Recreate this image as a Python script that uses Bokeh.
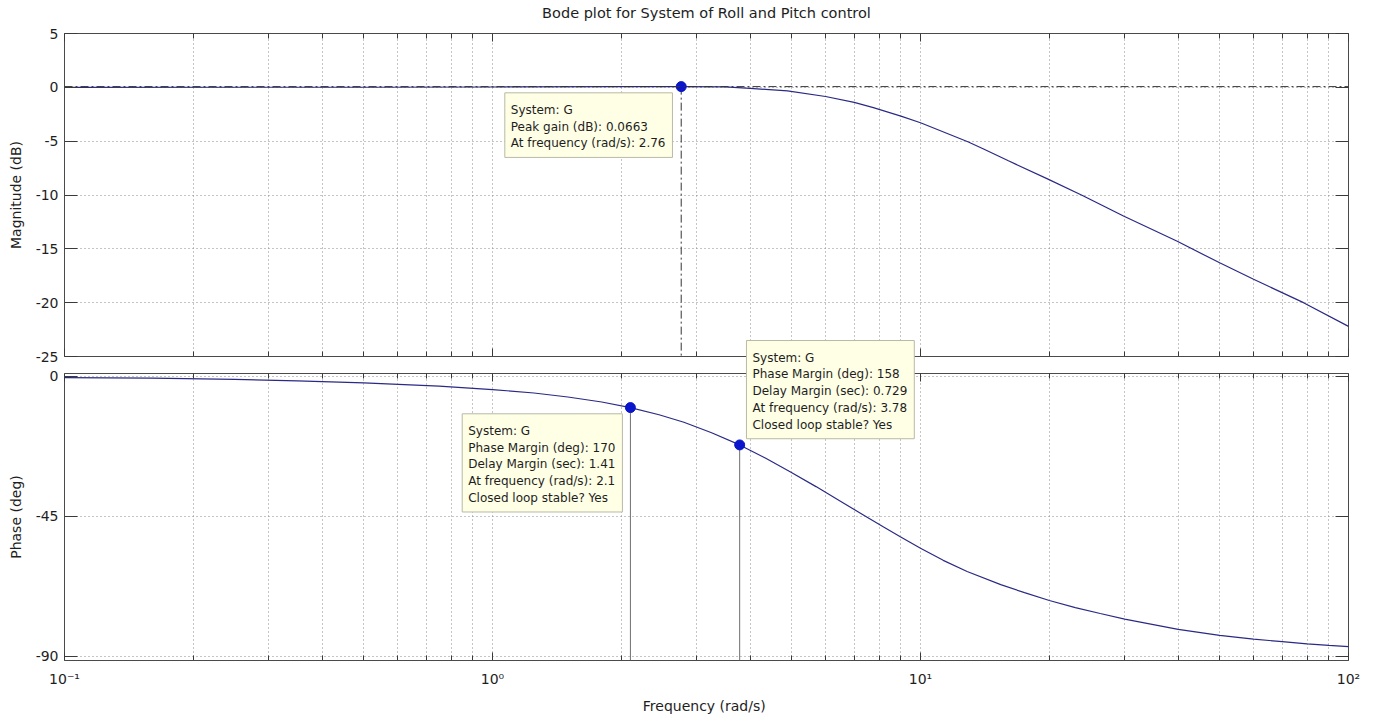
from bokeh.plotting import figure
from bokeh.models import Range1d, LogAxis, LinearAxis, FixedTicker, Span, Label
from bokeh.layouts import column
from bokeh.embed import file_html
from bokeh.resources import INLINE

# ---------------- data ----------------
title_text = "Bode plot for System of Roll and Pitch control"
mag_label = "Magnitude (dB)"
phase_label = "Phase (deg)"
freq_label = "Frequency  (rad/s)"

mag_freq = [0.1, 0.5, 1.0, 2.0, 2.76, 3.5, 4.0, 4.89, 6.0, 7.0, 7.76, 9.0, 10.0,
            12.9, 14.0, 16.0, 19.8, 23.9, 29.8, 39.8, 50.0, 60.0, 78.5, 100.0]
mag_db = [0.0, 0.01, 0.03, 0.06, 0.0663, 0.04, -0.1, -0.33, -0.85, -1.4, -1.88, -2.67, -3.29,
          -5.05, -5.7, -6.8, -8.5, -10.05, -11.95, -14.3, -16.3, -17.83, -20.0, -22.2]

phase_freq = [0.1, 0.16, 0.25, 0.35, 0.5, 0.75, 1.0, 1.25, 1.5, 1.8, 2.1, 2.45, 2.8, 3.25,
              3.78, 4.35, 4.97, 5.7, 6.5, 7.37, 8.2, 8.97, 10.0, 11.3, 12.85, 15.4, 17.5,
              20.0, 23.0, 26.3, 30.0, 40.0, 50.0, 60.0, 70.0, 80.0, 90.0, 100.0]
phase_deg = [-0.34, -0.54, -0.95, -1.4, -2.05, -3.1, -4.2, -5.3, -6.6, -8.2, -10.0, -12.3,
             -14.7, -18.1, -22.0, -26.3, -30.7, -35.4, -40.1, -44.6, -48.4, -51.5, -55.2,
             -59.1, -62.7, -66.9, -69.5, -72.0, -74.3, -76.2, -78.0, -81.3, -83.2, -84.4,
             -85.25, -85.95, -86.45, -86.85]

freq_ticks = [0.1, 1.0, 10.0, 100.0]
freq_tick_labels = ["10\u207b\u00b9", "10\u2070", "10\u00b9", "10\u00b2"]
freq_minor = [0.2, 0.3, 0.4, 0.5, 0.6, 0.7, 0.8, 0.9,
              2, 3, 4, 5, 6, 7, 8, 9,
              20, 30, 40, 50, 60, 70, 80, 90]
mag_ticks = [-25, -20, -15, -10, -5, 0, 5]
phase_ticks = [-90, -45, 0]
mag_limits = (-25, 5)
phase_limits = (-91.3, 0.96)

system_name = "G"
peak_freq = 2.76
peak_gain = 0.0663
pm_freq = [2.1, 3.78]
pm_phase = [-10.0, -22.0]
pm_margin = [170, 158]
pm_delay = [1.41, 0.729]
pm_stable = ["Yes", "Yes"]

# ---------------- styles / geometry ----------------
FONT = "DejaVu Sans"
CURVE = "#2a2a86"
MARK = "#0b16cc"
GRID = "#8a8a8a"
TICK = "#3a3a3a"
FRAME = "#4a4a4a"
TIP_BG = "#ffffe6"
TIP_EDGE = "#b9b9a6"
TEXT = "#1e1e1e"

W = 1365
LEFT, RIGHT = 64, 17
TOP_Y0, TOP_Y1 = 33, 356      # magnitude frame (page px)
BOT_Y0, BOT_Y1 = 373, 660     # phase frame (page px)
TITLE_Y = 12                  # title centre line (page px)
PAGE_H = 716
TOP_H = 363                   # top canvas height
BOT_START = 330               # bottom canvas starts here (overlaps top canvas)


def x_ticker():
    return FixedTicker(ticks=freq_ticks, minor_ticks=freq_minor)


def style_axis(ax, ticker, major_in, minor_in, show_labels):
    ax.ticker = ticker
    ax.axis_line_color = None
    ax.major_tick_out = 0
    ax.minor_tick_out = 0
    ax.major_tick_in = major_in
    ax.minor_tick_in = minor_in
    ax.major_tick_line_color = TICK
    ax.minor_tick_line_color = TICK
    ax.major_label_text_font = FONT
    ax.major_label_text_color = TEXT
    if show_labels:
        ax.major_label_text_font_size = "14px"
    else:
        ax.major_label_text_font_size = "1px"
        ax.major_label_text_alpha = 0
        ax.major_label_standoff = 0
    ax.axis_label_text_font = FONT
    ax.axis_label_text_font_size = "14px"
    ax.axis_label_text_font_style = "normal"
    ax.axis_label_text_color = TEXT


def dress(fig, y_ticks, y_label, x_labels_on):
    xb = fig.xaxis[0]
    style_axis(xb, x_ticker(), 8, 5, x_labels_on)
    yl = fig.yaxis[0]
    style_axis(yl, FixedTicker(ticks=y_ticks), 13, 0, True)
    yl.major_label_overrides = {t: str(t) for t in y_ticks}
    yl.axis_label = y_label
    yl.major_label_standoff = 6
    yl.axis_label_standoff = 9
    xt = LogAxis()
    style_axis(xt, x_ticker(), 8, 5, False)
    fig.add_layout(xt, "above")
    yr = LinearAxis()
    style_axis(yr, FixedTicker(ticks=y_ticks), 13, 0, False)
    fig.add_layout(yr, "right")
    fig.xgrid.ticker = x_ticker()
    fig.ygrid.ticker = FixedTicker(ticks=y_ticks)
    for g in (fig.xgrid, fig.ygrid):
        g.grid_line_color = GRID
        g.grid_line_dash = "1 3"
        g.grid_line_width = 1
    fig.xgrid.minor_grid_line_color = GRID
    fig.xgrid.minor_grid_line_dash = "1 3"
    fig.outline_line_color = FRAME
    fig.outline_line_width = 1
    return xb


def tip(x, y, dx, dy, text, range_name="default"):
    return Label(x=x, y=y, x_offset=dx, y_offset=dy, text=text, anchor="top_left",
                 y_range_name=range_name,
                 text_align="left", text_baseline="top",
                 text_font=FONT, text_font_size="12px", text_color=TEXT,
                 text_line_height=1.2,
                 background_fill_color=TIP_BG, border_line_color=TIP_EDGE,
                 border_line_width=1,
                 padding=dict(left=6, right=7, top=10, bottom=7))


# ---------------- magnitude panel ----------------
top = figure(width=W, height=TOP_H, x_axis_type="log",
             x_range=Range1d(freq_ticks[0], freq_ticks[-1]),
             y_range=Range1d(*mag_limits),
             output_backend="svg", toolbar_location=None,
             min_border_left=LEFT, min_border_right=RIGHT,
             min_border_top=TOP_Y0, min_border_bottom=TOP_H - TOP_Y1)
dress(top, mag_ticks, mag_label, False)

top.add_layout(Span(location=peak_gain, dimension="width", line_color="#333333",
                    line_dash="8 3 2 3", line_width=1))
top.segment(x0=[peak_freq], y0=[peak_gain], x1=[peak_freq], y1=[mag_limits[0]],
            line_color="#333333", line_dash="8 3 2 3", line_width=1)
top.line(mag_freq, mag_db, line_color=CURVE, line_width=1.2)
top.scatter([peak_freq], [peak_gain], size=10, fill_color=MARK, line_color=MARK)

# ---------------- phase panel ----------------
bot_h = PAGE_H - BOT_START
bot = figure(width=W, height=bot_h, x_axis_type="log", x_range=top.x_range,
             y_range=Range1d(*phase_limits),
             output_backend="svg", toolbar_location=None,
             min_border_left=LEFT, min_border_right=RIGHT,
             min_border_top=BOT_Y0 - BOT_START, min_border_bottom=PAGE_H - BOT_Y1,
             border_fill_color=None, margin=(BOT_START - TOP_H, 0, 0, 0))
xb = dress(bot, phase_ticks, phase_label, True)
xb.major_label_overrides = {float(t): s for t, s in zip(freq_ticks, freq_tick_labels)}
xb.major_label_standoff = 10
xb.axis_label = freq_label
xb.axis_label_standoff = 8

bot.segment(x0=pm_freq, y0=pm_phase, x1=pm_freq, y1=[phase_limits[0]] * len(pm_freq),
            line_color="#707070", line_width=1)
bot.line(phase_freq, phase_deg, line_color=CURVE, line_width=1.2)
bot.scatter(pm_freq, pm_phase, size=10, fill_color=MARK, line_color=MARK)

# ---------------- transparent overlay: title and data tips ----------------
# its frame spans from the page top to the phase panel bottom; its two y ranges
# reproduce the panels' scales so the tips anchor on the data points
mag_per_px = (mag_limits[1] - mag_limits[0]) / (TOP_Y1 - TOP_Y0)
ph_per_px = (phase_limits[1] - phase_limits[0]) / (BOT_Y1 - BOT_Y0)
ov_mag = Range1d(mag_limits[1] - mag_per_px * (BOT_Y1 - TOP_Y0),
                 mag_limits[1] + mag_per_px * TOP_Y0)
ov_ph = Range1d(phase_limits[0], phase_limits[0] + ph_per_px * BOT_Y1)
ov = figure(width=W, height=PAGE_H, x_axis_type="log", x_range=top.x_range,
            y_range=ov_mag, x_axis_location=None, y_axis_location=None,
            output_backend="svg", toolbar_location=None,
            min_border_left=LEFT, min_border_right=RIGHT,
            min_border_top=0, min_border_bottom=PAGE_H - BOT_Y1,
            background_fill_color=None, border_fill_color=None,
            outline_line_color=None, margin=(-PAGE_H, 0, 0, 0))
ov.extra_y_ranges = {"phase": ov_ph}
ov.grid.visible = False

x_mid = (freq_ticks[0] * freq_ticks[-1]) ** 0.5
ov.add_layout(Label(x=x_mid, y=mag_limits[1] + mag_per_px * (TOP_Y0 - TITLE_Y),
                    text=title_text, text_align="center", text_baseline="middle",
                    text_font=FONT, text_font_size="14.5px", text_color=TEXT))

ov.add_layout(tip(peak_freq, peak_gain, -176.4, -6.2,
                  f"System: {system_name}\nPeak gain (dB): {peak_gain}\n"
                  f"At frequency (rad/s): {peak_freq}"))
tip_offsets = [(-168.2, -6.2), (6.8, 104.4)]
for f, ph, m, d, st, (dx, dy) in zip(pm_freq, pm_phase, pm_margin, pm_delay, pm_stable, tip_offsets):
    ov.add_layout(tip(f, ph, dx, dy,
                      f"System: {system_name}\nPhase Margin (deg): {m}\n"
                      f"Delay Margin (sec): {d}\nAt frequency (rad/s): {f}\n"
                      f"Closed loop stable? {st}", "phase"))

layout = column(top, bot, ov)
open("out.html", "w").write(file_html(layout, INLINE))
